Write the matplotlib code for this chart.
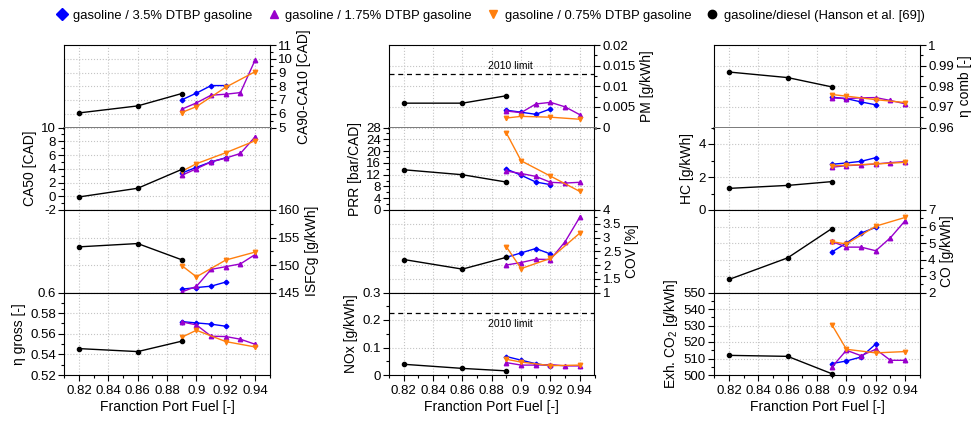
"""
Stacked comparison panels: engine metrics vs. fraction of port fuel
for three DTBP blends and the gasoline/diesel reference (Hanson et al.).
"""

import matplotlib.pyplot as plt
from matplotlib.lines import Line2D
from matplotlib.ticker import MultipleLocator, AutoMinorLocator, FormatStrFormatter

plt.rcParams["font.family"] = ["Liberation Sans", "DejaVu Sans"]
plt.rcParams["mathtext.fontset"] = "custom"
plt.rcParams["mathtext.rm"] = "Liberation Sans"
plt.rcParams["mathtext.it"] = "Liberation Sans:italic"

# ---- data -----------------------------------------------------------------
x_hanson = [0.82, 0.86, 0.89]
x_35 = [0.89, 0.90, 0.91, 0.92]
x_175 = [0.89, 0.90, 0.91, 0.92, 0.93, 0.94]
x_075 = [0.89, 0.90, 0.92, 0.94]

# order in each entry: hanson, 3.5 %, 1.75 %, 0.75 %
ca9010 = [[6.06, 6.57, 7.47], [7.01, 7.5, 8.05, 8.05],
          [6.33, 6.79, 7.35, 7.42, 7.54, 9.91], [6.09, 6.52, 7.93, 9.06]]
ca50 = [[-0.1, 1.16, 3.9], [3.38, 4.2, 5.0, 5.6],
        [3.04, 4.0, 5.0, 5.55, 6.23, 8.65], [3.62, 4.73, 6.33, 8.07]]
isfc = [[153.3, 153.9, 150.95], [145.6, 145.9, 146.15, 146.9],
        [145.1, 146.1, 149.2, 149.7, 150.2, 151.9], [149.9, 147.85, 150.9, 152.35]]
eta_gross = [[0.5456, 0.5427, 0.5528], [0.5718, 0.5705, 0.5693, 0.5673],
             [0.5715, 0.5686, 0.5576, 0.5573, 0.5547, 0.5498],
             [0.5566, 0.5634, 0.5524, 0.5472]]
pm = [[0.0059, 0.0059, 0.0077], [0.0042, 0.0037, 0.0032, 0.0045],
      [0.0040, 0.0036, 0.0057, 0.0061, 0.0050, 0.0031],
      [0.0023, 0.0027, 0.0025, 0.0020]]
prr = [[13.66, 11.97, 9.48], [13.9, 11.8, 9.5, 8.6],
       [13.2, 12.4, 11.4, 9.4, 9.15, 9.4], [26.1, 16.7, 11.5, 6.3]]
cov = [[2.2, 1.85, 2.28], [2.28, 2.44, 2.6, 2.4],
       [2.0, 2.09, 2.21, 2.2, 2.85, 3.74], [2.66, 1.87, 2.24, 3.16]]
nox = [[0.039, 0.024, 0.015], [0.067, 0.054, 0.041, 0.033],
       [0.045, 0.036, 0.036, 0.038, 0.033, 0.033], [0.057, 0.047, 0.034, 0.036]]
eta_comb = [[0.9869, 0.9842, 0.9797], [0.9747, 0.974, 0.9724, 0.971],
            [0.9744, 0.974, 0.9744, 0.9745, 0.9731, 0.9715],
            [0.976, 0.9752, 0.9735, 0.9721]]
hc = [[1.31, 1.49, 1.72], [2.77, 2.85, 2.95, 3.17],
      [2.59, 2.69, 2.73, 2.79, 2.87, 2.93], [2.67, 2.71, 2.79, 2.89]]
co = [[2.79, 4.1, 5.87], [4.45, 5.0, 5.6, 5.95],
      [5.1, 4.75, 4.75, 4.53, 5.32, 6.35], [5.08, 4.94, 6.02, 6.55]]
co2 = [[511.9, 511.3, 500.8], [506.9, 508.5, 510.9, 518.8],
       [504.7, 515.0, 511.7, 515.6, 508.9, 508.9], [530.6, 515.6, 513.4, 514.2]]

pm_limit = 0.013
nox_limit = 0.227

series_labels = ["gasoline / 3.5% DTBP gasoline", "gasoline / 1.75% DTBP gasoline",
                 "gasoline / 0.75% DTBP gasoline", "gasoline/diesel (Hanson et al. [69])"]

# ---- style ----------------------------------------------------------------
C_BLUE, C_PURPLE, C_ORANGE, C_BLACK = "#0000ff", "#9900cc", "#ff7f0e", "#000000"
STYLES = [  # (x, colour, marker, size) for hanson, 3.5, 1.75, 0.75
    (x_hanson, C_BLACK, "o", 3.0),
    (x_35, C_BLUE, "D", 2.4),
    (x_175, C_PURPLE, "^", 3.2),
    (x_075, C_ORANGE, "v", 3.2),
]

# (column, row, values, ylim, major step, label, tick side)
PANELS = [
    (0, 0, ca9010, (5, 11), 1, "CA90-CA10 [CAD]", "right"),
    (0, 1, ca50, (-2, 10), 2, "CA50 [CAD]", "left"),
    (0, 2, isfc, (145, 160), 5, "ISFCg [g/kWh]", "right"),
    (0, 3, eta_gross, (0.52, 0.60), 0.02, "η gross [-]", "left"),
    (1, 0, pm, (0, 0.02), 0.005, "PM [g/kWh]", "right"),
    (1, 1, prr, (0, 28), 4, "PRR [bar/CAD]", "left"),
    (1, 2, cov, (1, 4), 0.5, "COV [%]", "right"),
    (1, 3, nox, (0, 0.3), 0.1, "NOx [g/kWh]", "left"),
    (2, 0, eta_comb, (0.96, 1.0), 0.01, "η comb [-]", "right"),
    (2, 1, hc, (0, 5), 2, "HC [g/kWh]", "left"),
    (2, 2, co, (2, 7), 1, "CO [g/kWh]", "right"),
    (2, 3, co2, (500, 550), 10, "Exh. CO$_2$ [g/kWh]", "left"),
]

W, H = 976, 421
COL_LEFT = [64.3, 389.0, 714.3]
AX_W = 205.5
TOP = 45.0
ROW_H = 82.5

fig = plt.figure(figsize=(W / 100, H / 100), dpi=100)

for col, row, vals, ylim, step, label, side in PANELS:
    bottom = 1 - (TOP + ROW_H * (row + 1)) / H
    ax = fig.add_axes([COL_LEFT[col] / W, bottom, AX_W / W, ROW_H / H])

    # series: blue, purple, orange drawn first, black after
    for idx in (1, 2, 3, 0):
        xs, c, m, ms = STYLES[idx]
        ax.plot(xs, vals[idx], color=c, marker=m, markersize=ms, linewidth=1.0,
                clip_on=False, zorder=3)

    ax.set_xlim(0.81, 0.95)
    ax.set_ylim(*ylim)
    ax.xaxis.set_major_locator(MultipleLocator(0.02))
    ax.xaxis.set_minor_locator(MultipleLocator(0.01))
    ax.yaxis.set_major_locator(MultipleLocator(step))
    ax.yaxis.set_minor_locator(AutoMinorLocator(2))
    ax.yaxis.set_major_formatter(FormatStrFormatter("%g"))
    ax.xaxis.set_major_formatter(FormatStrFormatter("%g"))
    ax.grid(True, which="major", linestyle=":", color="#c4c4c4", linewidth=0.8)
    ax.set_axisbelow(True)

    if side == "right":
        ax.yaxis.tick_right()
        ax.yaxis.set_label_position("right")
    ax.tick_params(axis="y", which="both", direction="out", labelsize=9.5,
                   pad=2, width=0.8)
    ax.tick_params(axis="y", which="major", length=4)
    ax.tick_params(axis="y", which="minor", length=2.5)
    ax.set_ylabel(label, fontsize=10, labelpad=3)

    if row < 3:
        ax.tick_params(axis="x", which="both", bottom=False, labelbottom=False)
    else:
        ax.tick_params(axis="x", which="both", direction="out", labelsize=9.5,
                       width=0.8, pad=3)
        ax.tick_params(axis="x", which="major", length=4)
        ax.tick_params(axis="x", which="minor", length=2.5)
        ax.set_xlabel("Franction Port Fuel [-]", fontsize=10, labelpad=2)

    for sp in ax.spines.values():
        sp.set_linewidth(0.8)
    if row == 0:
        ax.spines["bottom"].set_color("#6e6e6e")
        ax.spines["bottom"].set_linewidth(2.0)
    if row == 1:
        ax.spines["top"].set_visible(False)

    if label.startswith("PM"):
        ax.axhline(pm_limit, color="black", linestyle="--", linewidth=0.9, dashes=(4, 3))
        ax.text(0.8925, 0.0149, "2010 limit", ha="center", va="center", fontsize=7.5)
    if label.startswith("NOx"):
        ax.axhline(nox_limit, color="black", linestyle="--", linewidth=0.9, dashes=(4, 3))
        ax.text(0.8925, 0.186, "2010 limit", ha="center", va="center", fontsize=7.5)

handles = [Line2D([], [], linestyle="none", color=STYLES[i][1], marker=STYLES[i][2],
                  markersize=6) for i in (1, 2, 3, 0)]
fig.legend(handles, series_labels, loc="upper center", bbox_to_anchor=(0.502, 1.005),
           ncol=4, frameon=False, fontsize=9.4, handletextpad=0.4,
           columnspacing=1.1, handlelength=1.0)

fig.savefig("out.png", dpi=100)
